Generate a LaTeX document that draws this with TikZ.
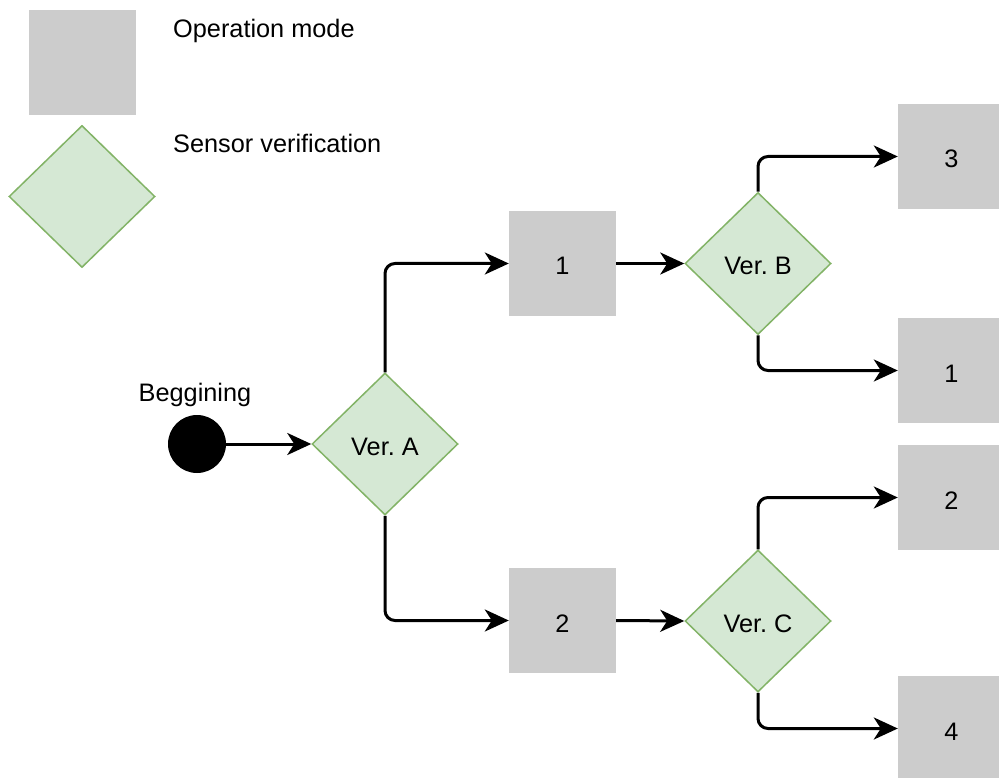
\documentclass[tikz,border=0pt]{standalone}
\usepackage{fontspec}
\setmainfont{Liberation Sans}
\usetikzlibrary{shapes.geometric,arrows.meta}
\definecolor{modegray}{HTML}{CCCCCC}
\definecolor{verfill}{HTML}{D5E8D4}
\definecolor{verline}{HTML}{82B366}
\newcommand{\diagfont}{\fontsize{25.3}{30}\selectfont\frenchspacing}
\tikzset{
  modebox/.style={rectangle, fill=modegray, draw=none, minimum width=107pt,
    minimum height=105pt, inner sep=0pt, font=\diagfont,
    text height=23pt, text depth=0pt},
  verbox/.style={diamond, fill=verfill, draw=verline, line width=1.5pt,
    minimum width=146pt, minimum height=142pt, inner sep=0pt,
    font=\diagfont, text height=23pt, text depth=0pt},
  lbl/.style={inner sep=0pt, font=\diagfont},
  conn/.style={draw=black, line width=3pt, rounded corners=10pt,
    -{Stealth[length=24pt, width=22pt, inset=7pt]}},
  startdot/.style={circle, fill=black, minimum size=58pt, inner sep=0pt}
}
\begin{document}
\begin{tikzpicture}[x=1pt, y=-1pt]
\clip (0,0) rectangle (999,778);
\fill[white] (0,0) rectangle (999,778);

% legend
\node[modebox] (legmode) at (82.5,62.5) {};
\node[lbl, anchor=base west] (legmodetxt) at (173,37.7) {Operation mode};
\node[verbox] (legver) at (82,196.5) {};
\node[lbl, anchor=base west] (legvertxt) at (173,153) {Sensor verification};

% start point
\node[startdot] (start) at (197,444) {};
\node[lbl, anchor=base] (starttxt) at (195,401.7) {Beggining};

% decisions
\node[verbox] (verA) at (385,444) {Ver. A};
\node[verbox] (verB) at (758,263.5) {Ver. B};
\node[verbox] (verC) at (758,621) {Ver. C};

% operation modes
\node[modebox] (m1) at (562.5,263.5) {1};
\node[modebox] (m2) at (562.5,620.5) {2};
\node[modebox] (m3) at (951.5,156.5) {3};
\node[modebox] (m1b) at (951.5,370.5) {1};
\node[modebox] (m2b) at (951.5,497.5) {2};
\node[modebox] (m4) at (951.5,728.5) {4};

% connectors
\draw[conn] (start.east) -- (verA.west);
\draw[conn] (verA.north) |- (m1.west);
\draw[conn] (verA.south) |- (m2.west);
\draw[conn] (m1.east) -- (verB.west);
\draw[conn] (m2.east) -- (verC.west);
\draw[conn] (verB.north) |- (m3.west);
\draw[conn] (verB.south) |- (m1b.west);
\draw[conn] (verC.north) |- (m2b.west);
\draw[conn] (verC.south) |- (m4.west);
\end{tikzpicture}
\end{document}
